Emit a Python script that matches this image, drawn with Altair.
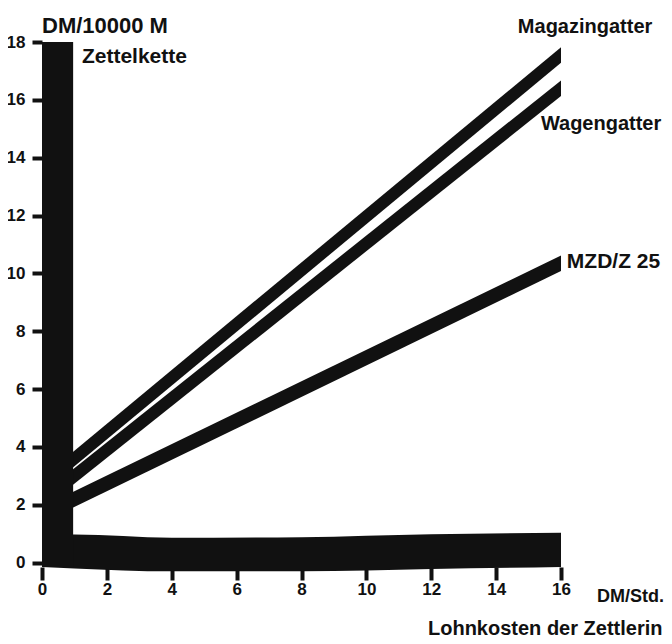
import altair as alt
import pandas as pd

# ---- data ----
x_ticks = [0, 2, 4, 6, 8, 10, 12, 14, 16]
y_ticks = [0, 2, 4, 6, 8, 10, 12, 14, 16, 18]

series_names = ["Magazingatter", "Wagengatter", "MZD/Z 25"]
line_x = [0.6, 16]
magazin_y = [3.23, 17.55]
wagen_y = [2.64, 16.4]
mzd_y = [1.98, 10.35]

# Zettelkette: vertical bar and bottom band
bar_x = [0, 0.96]
bar_y = [-0.15, 18]
band_x = [0, 1, 4, 8, 12, 16]
band_top = [0.97, 0.97, 0.86, 0.88, 0.98, 1.03]
band_bottom = [-0.15, -0.2, -0.3, -0.3, -0.22, -0.15]

# annotations (text, x, y in data units)
label_text = ["DM/10000 M", "Zettelkette", "Magazingatter", "Wagengatter",
              "MZD/Z 25", "DM/Std.", "Lohnkosten der Zettlerin"]
label_x = [0, 1.23, 14.67, 15.38, 16.18, 17.11, 11.9]
label_y = [18.31, 17.27, 18.31, 14.96, 10.19, -1.35, -2.5]
label_size = [22, 21, 20, 20, 21, 18, 20]

# ---- build ----
BLACK = "#111111"
FONT = "Liberation Sans"
HALF_THICK = 0.27  # half vertical thickness of the drawn strips (data units)

rows = []
for name, ys in zip(series_names, [magazin_y, wagen_y, mzd_y]):
    for xv, yv in zip(line_x, ys):
        rows.append({"series": name, "x": xv, "y": yv})
df_lines = pd.DataFrame(rows)
df_bar = pd.DataFrame({"x0": [bar_x[0]], "x1": [bar_x[1]], "y0": [bar_y[0]], "y1": [bar_y[1]]})
df_band = pd.DataFrame({"x": band_x, "top": band_top, "bottom": band_bottom})

x_scale = alt.Scale(domain=[0, 16], nice=False, zero=False)
y_scale = alt.Scale(domain=[-0.15, 18], nice=False, zero=False)

x_axis = alt.Axis(values=x_ticks, title=None)
y_axis = alt.Axis(values=y_ticks, title=None)

band = alt.Chart(df_band).mark_area(color=BLACK, interpolate="monotone").encode(
    x=alt.X("x:Q", scale=x_scale, axis=x_axis),
    y=alt.Y("top:Q", scale=y_scale, axis=y_axis),
    y2="bottom:Q",
)

lines = alt.Chart(df_lines).transform_calculate(
    ytop=f"datum.y + {HALF_THICK}", ybot=f"datum.y - {HALF_THICK}"
).mark_area(color=BLACK).encode(
    x=alt.X("x:Q", scale=x_scale, axis=x_axis),
    y=alt.Y("ytop:Q", scale=y_scale, axis=y_axis),
    y2="ybot:Q",
    detail="series:N",
)

bar = alt.Chart(df_bar).mark_rect(color=BLACK).encode(
    x=alt.X("x0:Q", scale=x_scale, axis=x_axis),
    x2="x1:Q",
    y=alt.Y("y0:Q", scale=y_scale, axis=y_axis),
    y2="y1:Q",
)

texts = []
for t, xv, yv, s in zip(label_text, label_x, label_y, label_size):
    df_t = pd.DataFrame({"label": [t], "x": [xv], "y": [yv]})
    texts.append(
        alt.Chart(df_t).mark_text(align="left", baseline="alphabetic", font=FONT,
                                  fontWeight="bold", fontSize=s, color=BLACK).encode(
            x=alt.X("x:Q", scale=x_scale, axis=x_axis),
            y=alt.Y("y:Q", scale=y_scale, axis=y_axis),
            text="label:N",
        )
    )

chart = alt.layer(band, lines, bar, *texts).properties(
    width=519,
    height=525,
    autosize=alt.AutoSizeParams(type="none"),
    padding={"left": 34, "top": 34, "right": 103, "bottom": 74},
    background="white",
).configure_view(
    stroke=None
).configure_axis(
    grid=False, domain=False, tickWidth=4, tickColor=BLACK,
    labelFont=FONT, labelFontSize=17, labelFontWeight="bold",
    labelColor=BLACK, labelFlush=False, labelOverlap=False,
).configure_axisX(
    tickSize=13, labelPadding=1,
).configure_axisY(
    tickSize=10, labelPadding=7,
)

chart.save("out.html", embed_options={"renderer": "svg", "actions": False})
